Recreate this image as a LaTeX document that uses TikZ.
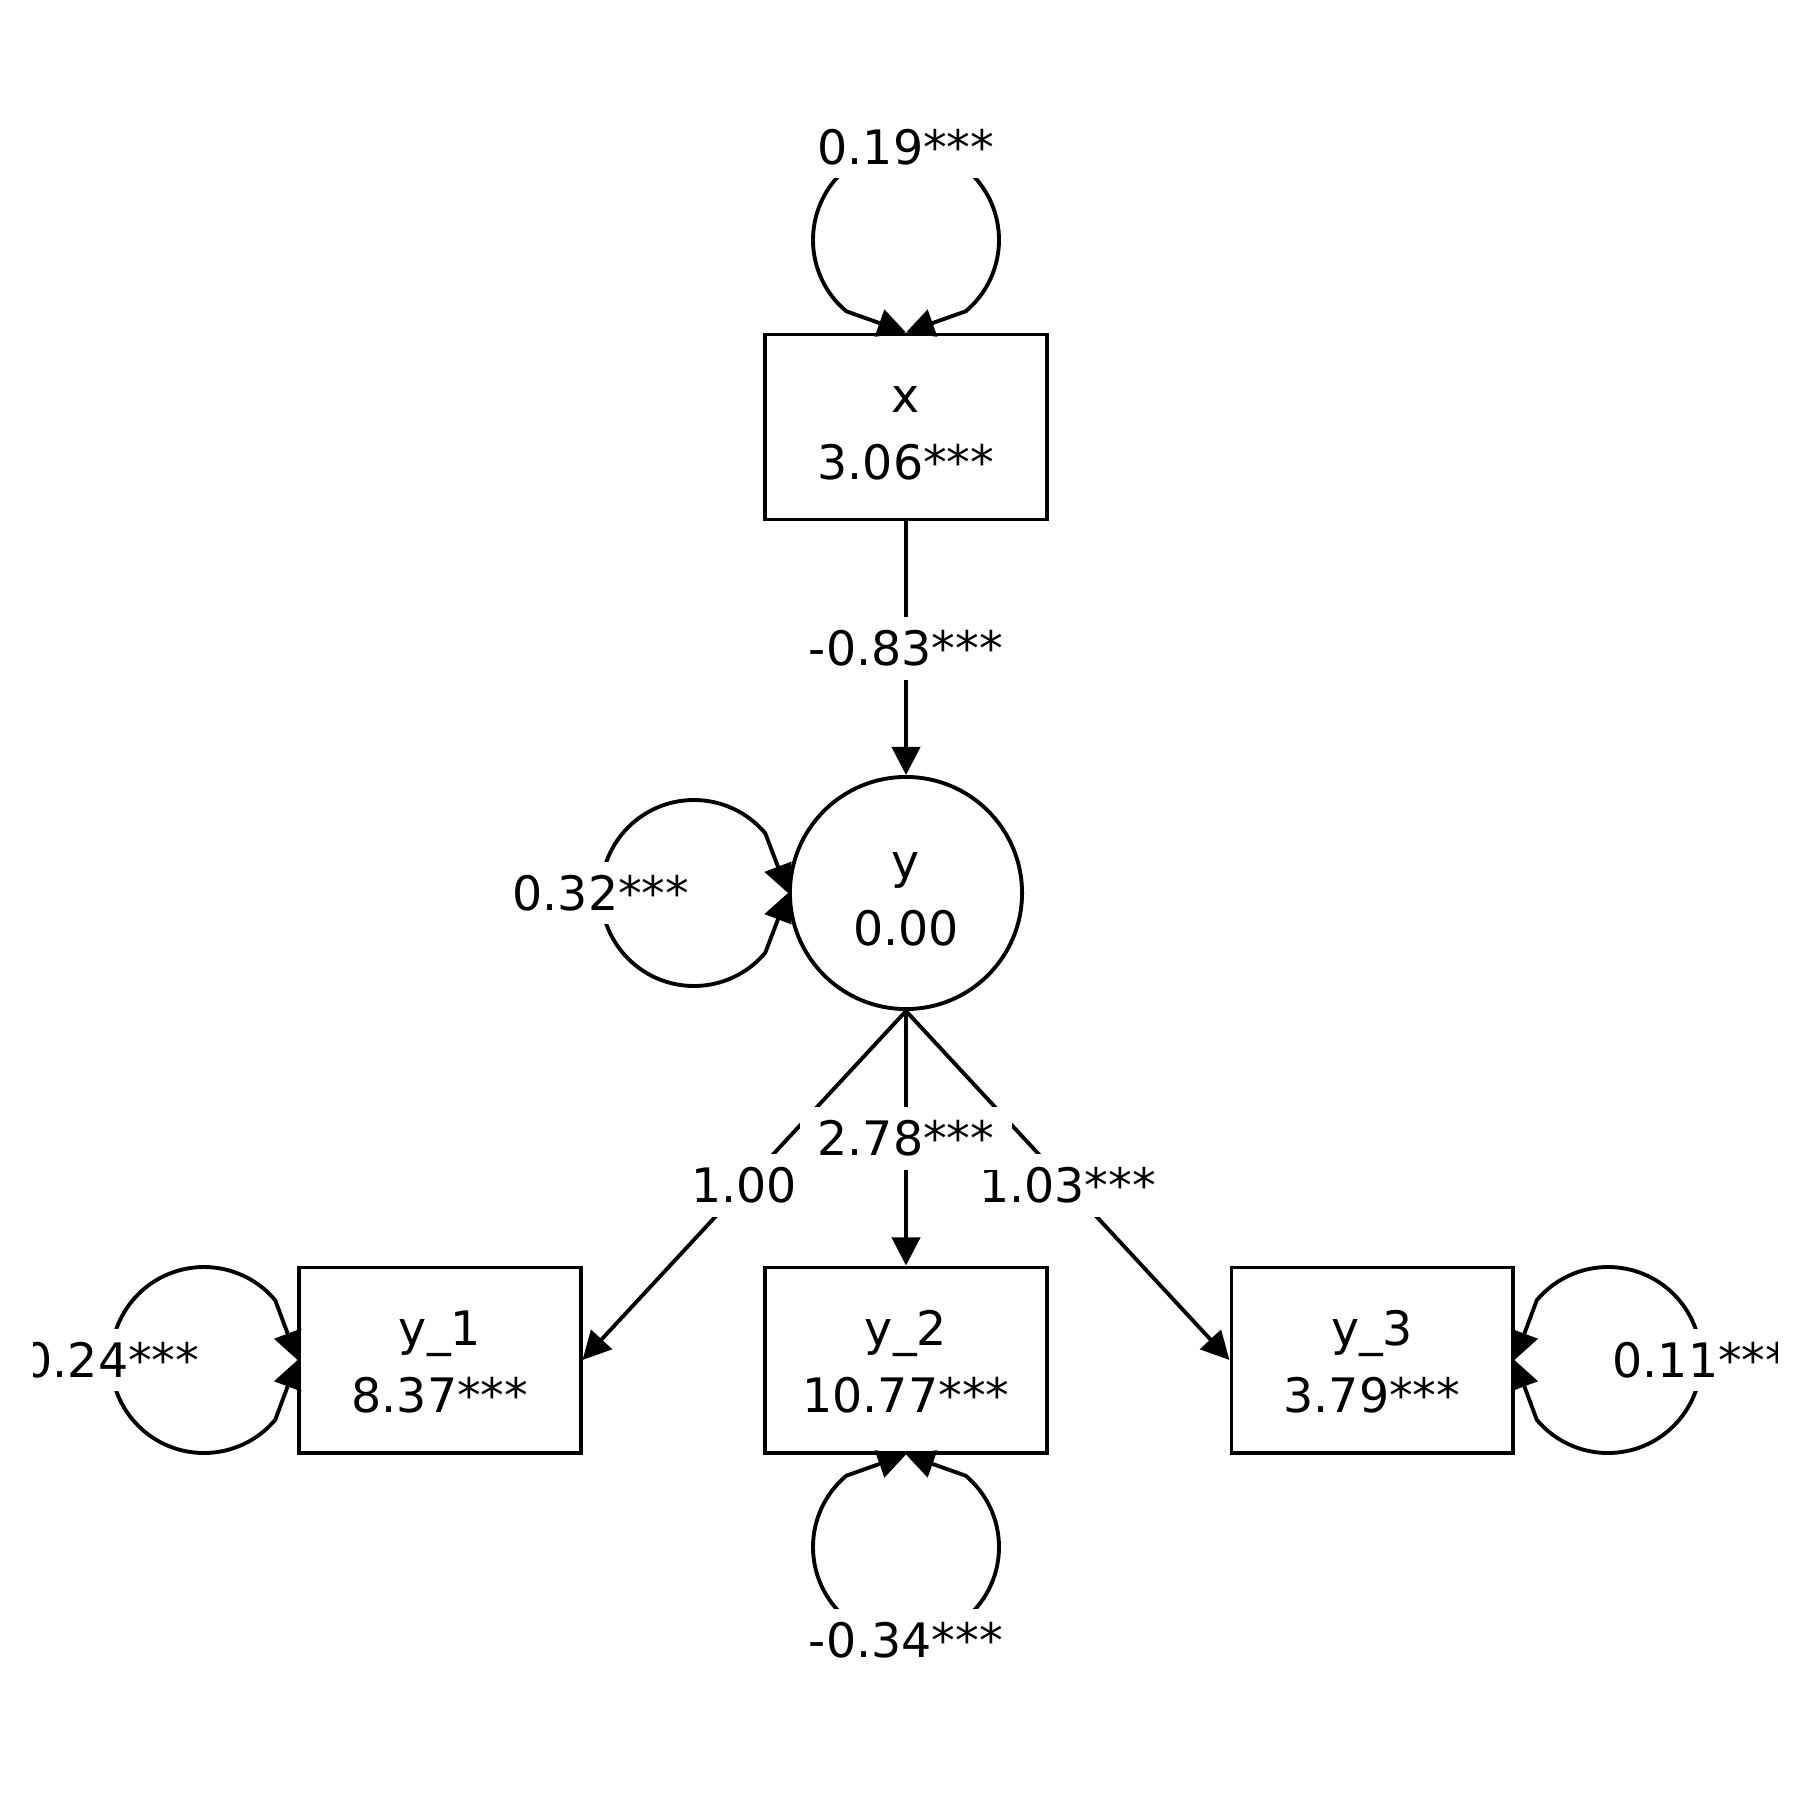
\documentclass[tikz,border=0pt]{standalone}
\usepackage{fontspec}
\setmainfont{DejaVu Sans}
\usetikzlibrary{arrows.meta}

\newcommand{\lstrut}{\rule{0pt}{11pt}}
\newcommand{\twolines}[2]{\lstrut#1\\\lstrut#2}

\begin{document}
\begin{tikzpicture}[x=0.01cm, y=0.01cm,
  every node/.style={font=\fontsize{13.5}{19}\selectfont},
  obs/.style={draw, line width=1.1pt, rectangle, minimum width=2.81cm,
    minimum height=1.85cm, align=center, inner sep=0pt},
  lat/.style={draw, line width=1.1pt, circle, minimum size=2.32cm,
    align=center, inner sep=0pt},
  arr/.style={line width=1.1pt, -{Triangle[length=8pt,width=8pt]}},
  lab/.style={fill=white, text height=9.8pt, text depth=0pt,
    inner xsep=5pt, inner ysep=4pt}]

\useasboundingbox (0,0) rectangle (1800,-1800) ;
\clip (33,0) rectangle (1777,-1800) ;

% variables
\node[obs] (x) at (906,-427) {\twolines{x}{3.06***}} ;
\node[lat] (y) at (906,-893) {\twolines{y}{0.00}} ;
\node[obs] (y1) at (440,-1360) {\twolines{y\_1}{8.37***}} ;
\node[obs] (y2) at (906,-1360) {\twolines{y\_2}{10.77***}} ;
\node[obs] (y3) at (1372,-1360) {\twolines{y\_3}{3.79***}} ;

% tops of the variance loops
\coordinate (vx) at (906,-147) ;
\coordinate (vy) at (601,-893) ;
\coordinate (vy1) at (111,-1360) ;
\coordinate (vy2) at (906,-1640) ;
\coordinate (vy3) at (1701,-1360) ;

\draw[arr] (vx) arc [start angle=90, end angle=230, radius=93] -- (x.north) ;
\draw[arr] (vx) arc [start angle=90, end angle=-50, radius=93] -- (x.north) ;
\draw[arr] (vy) arc [start angle=180, end angle=40, radius=93] -- (y.west) ;
\draw[arr] (vy) arc [start angle=180, end angle=320, radius=93] -- (y.west) ;
\draw[arr] (vy1) arc [start angle=180, end angle=40, radius=93] -- (y1.west) ;
\draw[arr] (vy1) arc [start angle=180, end angle=320, radius=93] -- (y1.west) ;
\draw[arr] (vy2) arc [start angle=270, end angle=130, radius=93] -- (y2.south) ;
\draw[arr] (vy2) arc [start angle=-90, end angle=50, radius=93] -- (y2.south) ;
\draw[arr] (vy3) arc [start angle=0, end angle=140, radius=93] -- (y3.east) ;
\draw[arr] (vy3) arc [start angle=0, end angle=-140, radius=93] -- (y3.east) ;

\node[lab] (lx) at (vx) {0.19***} ;
\node[lab] (ly) at (vy) {0.32***} ;
\node[lab] (ly1) at (vy1) {0.24***} ;
\node[lab] (ly2) at (vy2) {-0.34***} ;
\node[lab] (ly3) at (vy3) {0.11***} ;

% paths
\draw[arr] (x.south) -- node[lab] (ex) {-0.83***} (y.north) ;
\draw[arr] (y.south) -- node[lab] (ey1) {1.00} (y1.east) ;
\draw[arr] (y.south) -- node[lab] (ey3) {1.03***} (y3.west) ;
\draw[arr] (y.south) -- node[lab] (ey2) {2.78***} (y2.north) ;

\end{tikzpicture}
\end{document}
